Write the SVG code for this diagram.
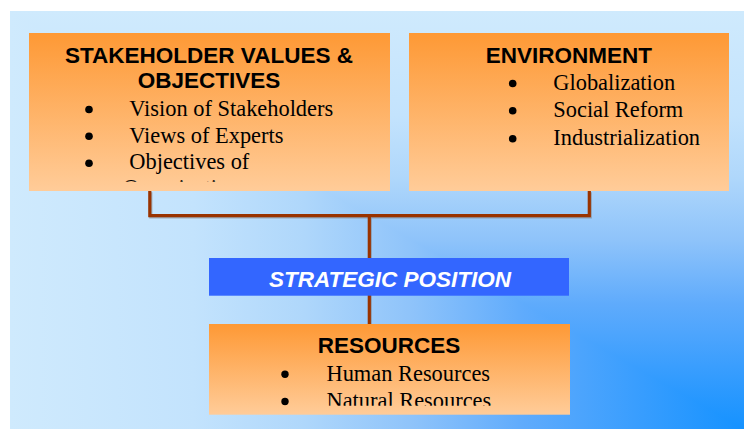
<svg xmlns="http://www.w3.org/2000/svg" width="744" height="429" viewBox="0 0 744 429">
  <defs>
    <!-- corner-path background: horizontal ramp in the lower-left triangle, vertical ramp elsewhere -->
    <linearGradient id="bgX" gradientUnits="userSpaceOnUse" x1="744" y1="0" x2="10" y2="0">
      <stop offset="0" stop-color="#1592ff"/>
      <stop offset="0.15" stop-color="#3a9efe"/>
      <stop offset="0.3" stop-color="#5fabfc"/>
      <stop offset="0.45" stop-color="#8ec3fa"/>
      <stop offset="0.6" stop-color="#afd7fb"/>
      <stop offset="0.75" stop-color="#c3e3fd"/>
      <stop offset="1" stop-color="#cfeafd"/>
    </linearGradient>
    <linearGradient id="bgY" gradientUnits="userSpaceOnUse" x1="0" y1="429" x2="0" y2="11">
      <stop offset="0" stop-color="#1592ff"/>
      <stop offset="0.15" stop-color="#3a9efe"/>
      <stop offset="0.3" stop-color="#5fabfc"/>
      <stop offset="0.45" stop-color="#8ec3fa"/>
      <stop offset="0.6" stop-color="#afd7fb"/>
      <stop offset="0.75" stop-color="#c3e3fd"/>
      <stop offset="1" stop-color="#cfeafd"/>
    </linearGradient>
    <linearGradient id="orange" x1="0" y1="0" x2="0" y2="1">
      <stop offset="0" stop-color="#fe9935"/>
      <stop offset="1" stop-color="#ffcc99"/>
    </linearGradient>
    <clipPath id="clipStake"><rect x="29" y="33" width="361" height="148.7"/></clipPath>
    <clipPath id="clipRes"><rect x="209" y="324" width="361" height="81.7"/></clipPath>
  </defs>
  <style>
    .box { fill: url(#orange); }
    .title { font-family: "Liberation Sans", Arial, sans-serif; font-weight: bold; font-size: 22.5px; fill: #000; text-anchor: middle; }
    .item { font-family: "Liberation Serif", "Times New Roman", serif; font-size: 22.4px; fill: #000; }
    .dot { fill: #000; }
    .link { fill: none; stroke: #993300; stroke-width: 3.2; }
    .shadow { fill: none; stroke: #7f7f7f; stroke-opacity: 0.55; stroke-width: 3.2; }
  </style>

  <!-- backdrop -->
  <rect x="10" y="11" width="734" height="418" fill="url(#bgY)"/>
  <polygon points="10,11 10,429 744,429" fill="url(#bgX)"/>

  <!-- connectors -->
  <g id="connectors">
    <g transform="translate(1,1.2)">
      <path class="shadow" d="M149.8,191 V215.7 H589.3 V191"/>
      <path class="shadow" d="M369.3,217 V324"/>
    </g>
    <path class="link" d="M149.8,191 V215.7 H589.3 V191"/>
    <path class="link" d="M369.3,217 V324"/>
  </g>

  <g id="stakeholder-values">
    <rect class="box" x="29" y="33" width="361" height="158"/>
    <text class="title" x="209" y="62.7">STAKEHOLDER VALUES &amp;</text>
    <text class="title" x="209" y="88.3">OBJECTIVES</text>
    <g clip-path="url(#clipStake)">
      <circle class="dot" cx="89" cy="109.5" r="3.8"/>
      <circle class="dot" cx="89" cy="136.3" r="3.8"/>
      <circle class="dot" cx="89" cy="163.3" r="3.8"/>
      <text class="item" x="129.3" y="115.7">Vision of Stakeholders</text>
      <text class="item" x="129.3" y="142.5">Views of Experts</text>
      <text class="item" x="129.3" y="169.3">Objectives of</text>
      <text class="item" x="123" y="195">Organization</text>
    </g>
  </g>

  <g id="environment">
    <rect class="box" x="409" y="33" width="320" height="158"/>
    <text class="title" x="569" y="62.7">ENVIRONMENT</text>
    <circle class="dot" cx="512.7" cy="83.5" r="3.8"/>
    <circle class="dot" cx="512.7" cy="110.8" r="3.8"/>
    <circle class="dot" cx="512.7" cy="138.7" r="3.8"/>
    <text class="item" x="553.3" y="90">Globalization</text>
    <text class="item" x="553.3" y="117.3">Social Reform</text>
    <text class="item" x="553.3" y="145">Industrialization</text>
  </g>

  <g id="strategic-position">
    <rect x="209" y="258" width="360" height="37.7" fill="#3366ff"/>
    <text x="390" y="286.7" text-anchor="middle" font-family="Liberation Sans, Arial, sans-serif" font-size="22.5" font-weight="bold" font-style="italic" fill="#ffffff">STRATEGIC POSITION</text>
  </g>

  <g id="resources">
    <rect class="box" x="209" y="324" width="361" height="90.7"/>
    <text class="title" x="389" y="353.3">RESOURCES</text>
    <g clip-path="url(#clipRes)">
      <circle class="dot" cx="285" cy="374.3" r="3.7"/>
      <circle class="dot" cx="285" cy="401.5" r="3.7"/>
      <text class="item" x="326.5" y="380.7">Human Resources</text>
      <text class="item" x="326.5" y="407.8">Natural Resources</text>
    </g>
  </g>
</svg>
